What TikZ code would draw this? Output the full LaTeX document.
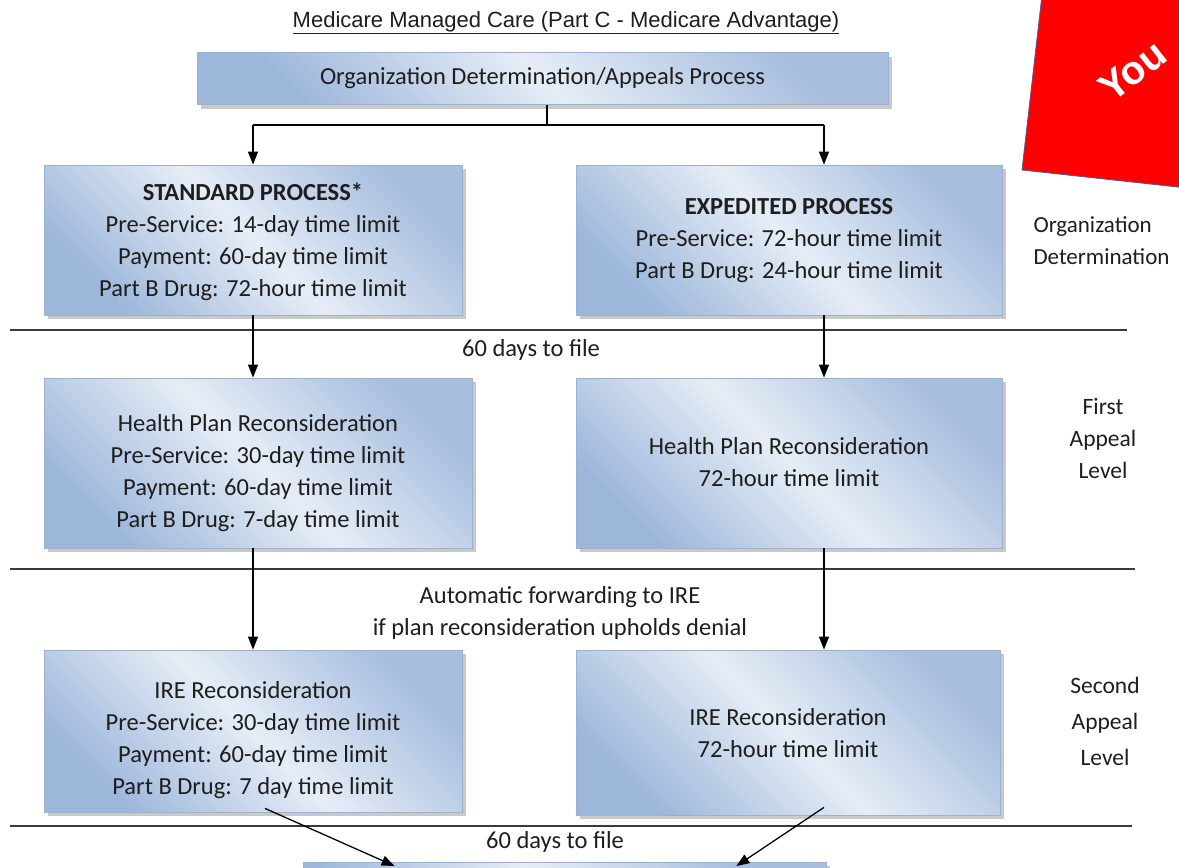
\documentclass[tikz,border=0pt]{standalone}
\usepackage{fontspec}
\setmainfont{Carlito}
\newfontfamily\arialf{Liberation Sans}
\usetikzlibrary{arrows.meta,shadows,calc}
\definecolor{bdark}{HTML}{9DB7DB}
\definecolor{blight}{HTML}{E6EDF6}
\definecolor{bedge}{HTML}{9AB1D2}
\definecolor{sepc}{HTML}{3A3A3A}
\definecolor{txt}{HTML}{1E1E1E}
\definecolor{redbox}{HTML}{FF0000}
\definecolor{rededge}{HTML}{4A5C9A}
\tikzset{
  pbox/.style={draw=bedge, line width=0.8pt, left color=bdark, right color=bdark!90!white, middle color=blight, shading angle=135,
    drop shadow={shadow xshift=4pt, shadow yshift=-4pt, fill=black!35, opacity=0.6}},
  btext/.style={text=txt, align=center, font=\fontsize{24.5}{32}\selectfont},
  side/.style={text=txt, align=center, font=\fontsize{23.5}{36}\selectfont},
  conn/.style={draw=black, line width=1.3pt},
  arr/.style={draw=black, line width=1.3pt, -{Triangle[length=13pt,width=10pt]}},
  sep/.style={draw=sepc, line width=2.2pt},
}
\begin{document}
\begin{tikzpicture}[x=1pt,y=-1pt]
\clip (0,0) rectangle (1179,868);
\fill[white] (0,0) rectangle (1179,868);

% red "You" card
\filldraw[fill=redbox, draw=rededge, line width=0.8pt] (1046,-40) -- (1022,170) -- (1260,196) -- (1285,-20) -- cycle;
\node[text=white, font=\arialf\bfseries\fontsize{40}{40}\selectfont, rotate=38, anchor=base west, inner sep=0pt] (you) at (1112,104) {You};

% title
\node[text=txt, font=\arialf\fontsize{22}{24}\selectfont] (title) at (566,23) {\underline{Medicare Managed Care (Part C - Medicare Advantage)}};

% top box
\node[pbox, minimum width=691pt, minimum height=52pt, btext] (top) at (542.5,78.5) {Organization Determination/Appeals Process};

% organization determination row
\node[pbox, minimum width=418pt, minimum height=150pt] (std) at (253,240) {};
\node[btext] (stdt) at (253,242) {\textbf{STANDARD PROCESS*}\\Pre-Service: 14-day time limit\\Payment: 60-day time limit\\Part B Drug: 72-hour time limit};
\node[pbox, minimum width=426pt, minimum height=150pt] (exp) at (789,240) {};
\node[btext] (expt) at (789,241) {\textbf{EXPEDITED PROCESS}\\Pre-Service: 72-hour time limit\\Part B Drug: 24-hour time limit};
\node[side, align=left, font=\fontsize{23}{32}\selectfont, anchor=west] (lab1) at (1030,241) {Organization\\Determination};

% first appeal row
\node[pbox, minimum width=428pt, minimum height=170pt] (hpl) at (258,463) {};
\node[btext] (hplt) at (258,473) {Health Plan Reconsideration\\Pre-Service: 30-day time limit\\Payment: 60-day time limit\\Part B Drug: 7-day time limit};
\node[pbox, minimum width=426pt, minimum height=170pt] (hpr) at (789,463) {};
\node[btext] (hprt) at (789,462) {Health Plan Reconsideration\\72-hour time limit};
\node[side, font=\fontsize{23.5}{32}\selectfont] (lab2) at (1103,438) {First\\Appeal\\Level};

% second appeal row
\node[pbox, minimum width=418pt, minimum height=162pt] (irel) at (253,731) {};
\node[btext] (irelt) at (253,740) {IRE Reconsideration\\Pre-Service: 30-day time limit\\Payment: 60-day time limit\\Part B Drug: 7 day time limit};
\node[pbox, minimum width=424pt, minimum height=165pt] (irer) at (788,732.5) {};
\node[btext] (irert) at (788,733) {IRE Reconsideration\\72-hour time limit};
\node[side] (lab3) at (1105,721) {Second\\Appeal\\Level};

% bottom (cut-off) box
\node[pbox, minimum width=523pt, minimum height=80pt, anchor=north] (fin) at (564.5,862) {};

% separators
\draw[sep] (10,330) -- (1127,330);
\draw[sep] (10,569) -- (1135,569);
\draw[sep] (10,826) -- (1132,826);
\node[btext] (f1) at (531,350) {60 days to file};
\node[btext] (fw) at (560,613) {Automatic forwarding to IRE\\if plan reconsideration upholds denial};
\node[btext] (f2) at (555,842) {60 days to file};

% connectors
\coordinate (j) at (547,125);
\coordinate (jl) at (253,125);
\coordinate (jr) at (824,125);
\draw[conn] (top.south -| j) -- (j);
\draw[conn] (jl) -- (jr);
\draw[arr] (jl) -- (std.north);
\draw[arr] (jr) -- (jr |- exp.north);
\draw[arr] (std.south) -- (std.south |- hpl.north);
\draw[arr] (jr |- exp.south) -- (jr |- hpr.north);
\draw[arr] (std.south |- hpl.south) -- (std.south |- irel.north);
\draw[arr] (jr |- hpr.south) -- (jr |- irer.north);
\coordinate (d1) at ($(irel.south)+(12,-4)$);
\coordinate (d2) at ($(jr |- irer.south)+(0,-8)$);
\draw[arr] (d1) -- ($(fin.north west)+(92,4)$);
\draw[arr] (d2) -- ($(fin.north east)+(-90,4)$);
\end{tikzpicture}
\end{document}
